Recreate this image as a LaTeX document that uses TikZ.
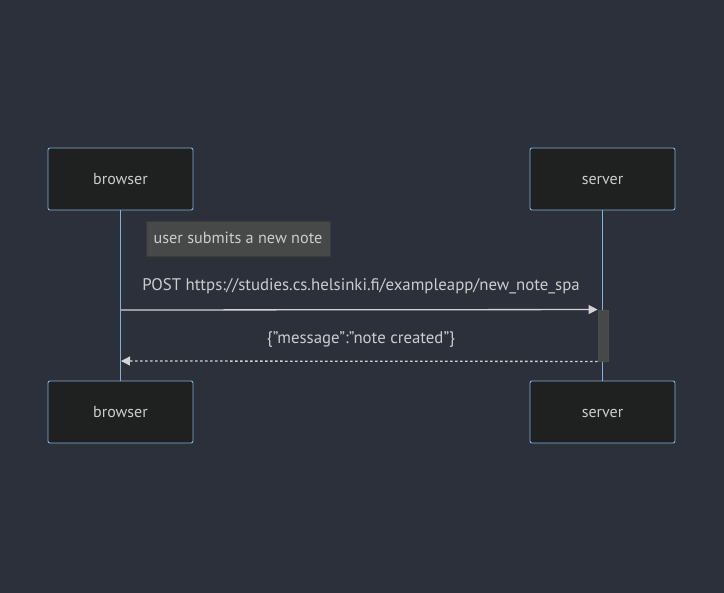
\documentclass[tikz,border=0pt]{standalone}
\usepackage{fontspec}
\setmainfont{PT Sans}
\usetikzlibrary{arrows.meta}
\definecolor{bg}{HTML}{2B303B}
\definecolor{actfill}{HTML}{1F2020}
\definecolor{actline}{HTML}{81B1DB}
\definecolor{txt}{HTML}{CCCCCC}
\definecolor{msgline}{HTML}{D3D3D3}
\definecolor{notefill}{HTML}{474949}
\begin{document}
\begin{tikzpicture}[x=1pt,y=-1pt,
  actor/.style={draw=actline,fill=actfill,rounded corners=2pt,line width=0.9pt,minimum width=145pt,minimum height=62pt,text=txt,font=\fontsize{16}{19}\selectfont,text height=12pt,text depth=1pt},
  life/.style={draw=actline,line width=1.6pt},
  msg/.style={draw=msgline,line width=1.3pt},
  lbl/.style={text=txt,font=\fontsize{16.8}{20}\selectfont,inner sep=0pt,text height=12pt,text depth=3pt},
  notebox/.style={fill=notefill,draw=notefill!80!black,text=txt,font=\fontsize{16.2}{19}\selectfont,minimum width=184pt,minimum height=35pt,inner sep=0pt,text height=12pt,text depth=2pt},
  actbox/.style={fill=notefill,draw=gray!60!black,line width=0.9pt,minimum width=10pt,minimum height=51pt,inner sep=0pt}
]
\useasboundingbox[fill=bg] (0,0) rectangle (724,593);
\node[actor] (b1) at (120.5,179) {browser};
\node[actor] (s1) at (602.5,179) {server};
\node[actor] (b2) at (120.5,412) {browser};
\node[actor] (s2) at (602.5,412) {server};
\draw[life] (b1.south) -- (b2.north);
\draw[life] (s1.south) -- (s2.north);
\node[notebox] (n) at (238,238.5) {user submits a new note};
\coordinate (p1) at (121,310);
\node[actbox] (a) at (603,335.5) {};
\coordinate (r2) at (121,361);
\node[lbl] (m1) at (361,286) {POST https://studies.cs.helsinki.fi/exampleapp/new\_note\_spa};
\node[lbl] (m2) at (361,339) {\{\symbol{34}message\symbol{34}:\symbol{34}note created\symbol{34}\}};
\draw[msg,-{Triangle[length=9pt,width=9pt]}] (p1) -- (a.north west);
\draw[msg,dash pattern=on 2.5pt off 2.5pt,-{Triangle[length=9pt,width=9pt]}] (a.south west) -- (r2);
\end{tikzpicture}
\end{document}
